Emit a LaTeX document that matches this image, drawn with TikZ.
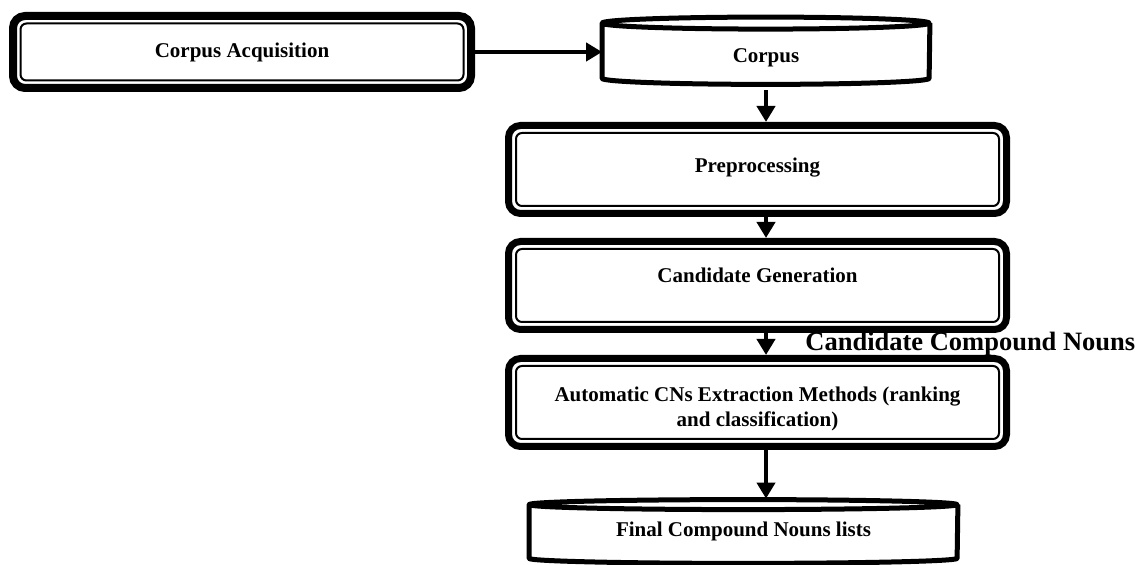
\documentclass[tikz,border=0pt]{standalone}
\usepackage{fontspec}
\setmainfont{Liberation Serif}
\usetikzlibrary{arrows.meta}

\begin{document}
\begin{tikzpicture}[x=0.5pt,y=0.5pt,
    font=\fontsize{10.5}{12.5}\selectfont\bfseries,
    stage/.style={draw,line width=3.5pt,rounded corners=6pt,minimum width=249pt,minimum height=44pt,align=center,
      path picture={\draw[line width=1pt,rounded corners=3pt]
        ([shift={(3.75pt,3.75pt)}]path picture bounding box.south west) rectangle
        ([shift={(-3.75pt,-3.75pt)}]path picture bounding box.north east);}},
    store/.style={minimum width=163.5pt,minimum height=27.25pt},
    can/.style={line width=2.5pt,line join=round},
    flow/.style={line width=2.25pt,-{Triangle[length=8pt,width=9pt]}}]
  \useasboundingbox (0,0) rectangle (1138,565);
  \node[stage,line width=4pt,minimum width=229pt,minimum height=36pt] (acq) at (242,513) {Corpus Acquisition};
  \node[store] (corpus) at (766,514.25) {\rule{0pt}{14pt}Corpus};
  \node[stage] (prep) at (757.5,395.5) {\rule[-4.3pt]{0pt}{4.3pt}Preprocessing};
  \node[stage] (gen) at (757.5,279.5) {\rule[-10pt]{0pt}{10pt}Candidate Generation};
  \node[stage] (auto) at (757.5,162.5) {\rule{0pt}{13.5pt}Automatic CNs Extraction Methods (ranking\\and classification)};
  \node[store,minimum width=214pt,minimum height=26.5pt] (final) at (743.5,33.5) {Final Compound Nouns lists};
  \node[font=\fontsize{13.25}{15}\selectfont\bfseries,anchor=west,inner sep=0pt] (cands) at (805,221) {Candidate Compound Nouns};
  % the two stores
  \draw[can] (corpus.north west) arc[start angle=180,end angle=-180,x radius=81.75pt,y radius=3pt]
    -- (corpus.south west) arc[start angle=180,end angle=360,x radius=81.75pt,y radius=3pt] -- (corpus.north east);
  \draw[can] (final.north west) arc[start angle=180,end angle=-180,x radius=107pt,y radius=2.5pt]
    -- (final.south west) arc[start angle=180,end angle=360,x radius=107pt,y radius=2.5pt] -- (final.north east);
  % arrows
  \draw[flow] (acq.east) -- (acq.east -| corpus.west);
  \draw[flow] ([yshift=-6pt]corpus.south) -- (corpus.south |- prep.north);
  \draw[flow] (prep.south -| corpus) -- (gen.north -| corpus);
  \draw[flow] (gen.south -| corpus) -- (auto.north -| corpus);
  \draw[flow] (auto.south -| corpus) -- ([yshift=3pt]final.north -| corpus);
\end{tikzpicture}
\end{document}
